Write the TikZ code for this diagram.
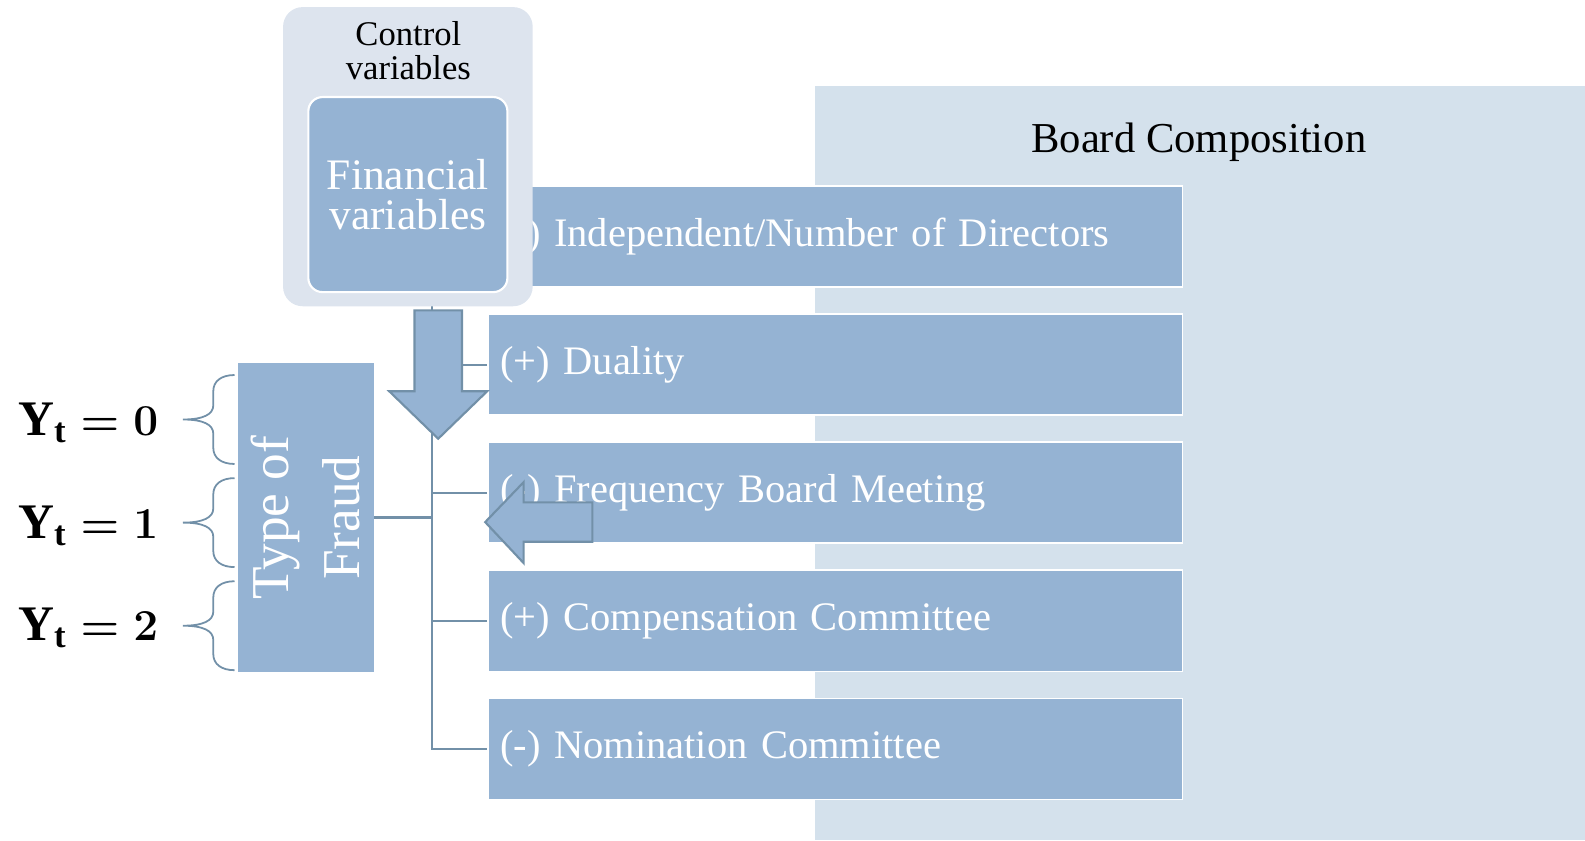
\documentclass[tikz,border=0pt]{standalone}
\usepackage{fontspec}
\setmainfont{Liberation Serif}
\usetikzlibrary{positioning}
\definecolor{boardbg}{HTML}{D4E1EC}
\definecolor{ctrlbg}{HTML}{DDE4EE}
\definecolor{itemfill}{HTML}{95B3D3}
\definecolor{linkcol}{HTML}{7290A8}
\tikzset{
  boardpanel/.style={
    rectangle, fill=boardbg, draw=none,
    minimum width=15.24cm, minimum height=14.92cm, inner sep=0pt
  },
  itembox/.style={
    rectangle, draw=white, line width=1pt, fill=itemfill, text=white,
    minimum height=2cm, text width=13.26cm, inner xsep=0.24cm,
    align=left, font=\fontsize{22.8}{27}\selectfont
  },
  ctrlbox/.style={
    rectangle, rounded corners=11pt, fill=ctrlbg, draw=none,
    minimum width=4.94cm, minimum height=5.92cm
  },
  finbox/.style={
    rectangle, rounded corners=8pt, fill=itemfill, draw=white,
    line width=1.2pt, text=white, align=center,
    minimum width=3.94cm, minimum height=3.86cm,
    font=\fontsize{24.5}{22.8}\selectfont
  },
  fraudbox/.style={
    rectangle, fill=itemfill, draw=none,
    minimum width=2.7cm, minimum height=6.12cm
  },
  ylabel/.style={
    font=\fontsize{28}{30}\selectfont\boldmath, anchor=base east, inner sep=0pt
  },
  link/.style={draw=linkcol, line width=1.2pt},
  bigarrow/.style={fill=itemfill, draw=linkcol, line width=1.2pt, line join=miter},
  bracecol/.style={draw=linkcol, line width=1pt},
  fbrace/.pic={
    \draw[bracecol] (51,-44) .. controls (38,-44) and (30,-38) .. (30,-28)
      -- (30,-14) .. controls (30,-5) and (20,0) .. (0,0)
      .. controls (20,0) and (30,5) .. (30,14)
      -- (30,28) .. controls (30,38) and (38,44) .. (51,44);
  },
}

\begin{document}
\begin{tikzpicture}[x=0.02cm, y=-0.02cm]
\useasboundingbox (0,0) rectangle (1568,831);

% Board composition panel
\node[boardpanel, anchor=north west] (board) at (806,85) {};
\node[font=\fontsize{24}{28}\selectfont] (boardtitle) at (1186,141) {Board Composition};

% Board items
\node[itembox, anchor=west] (b1) at (482,234) {(-) Independent/Number of Directors};
\node[itembox, below=0.5cm of b1] (b2) {(+) Duality};
\node[itembox, below=0.5cm of b2] (b3) {(-) Frequency Board Meeting};
\node[itembox, below=0.5cm of b3] (b4) {(+) Compensation Committee};
\node[itembox, below=0.5cm of b4] (b5) {(-) Nomination Committee};

% Connectors
\coordinate (trunk) at (427,300);
\draw[link] (trunk) |- (b5.west);
\draw[link] (b2.west) -- (b2.west -| trunk);
\draw[link] (b3.west) -- (b3.west -| trunk);
\draw[link] (b4.west) -- (b4.west -| trunk);

% Control variables
\node[ctrlbox] (ctrl) at (403.5,155) {};
\node[align=center, font=\fontsize{19.5}{19}\selectfont] (ctrltitle) at (404,50) {Control\\variables};
\node[finbox] (fin) at (403.5,192.5) {Financial\\variables};

% Type of fraud
\node[fraudbox] (fraud) at (302.5,512) {};
\node[rotate=90, text=white, align=center, font=\fontsize{30}{40}\selectfont] (fraudtxt) at (fraud.center) {Type of\\Fraud};
\draw[link] (fraud.east) -- (fraud.east -| trunk);

% Outcome values
\pic at (181,415) {fbrace};
\pic at (181,517) {fbrace};
\pic at (181,619) {fbrace};
\node[ylabel] (y0) at (157,431) {$\mathrm{Y}_{\mathrm{t}} = 0$};
\node[ylabel] (y1) at (157,533) {$\mathrm{Y}_{\mathrm{t}} = 1$};
\node[ylabel] (y2) at (157,634) {$\mathrm{Y}_{\mathrm{t}} = 2$};

% Block arrows
\draw[bigarrow] (410,307) -- (457,307) -- (457,387) -- (482,387) -- (433.5,434)
  -- (385,387) -- (410,387) -- cycle;
\draw[bigarrow] (586,497) -- (586,536) -- (518,536) -- (518,557) -- (480,516.5)
  -- (518,477) -- (518,497) -- cycle;

\end{tikzpicture}
\end{document}
